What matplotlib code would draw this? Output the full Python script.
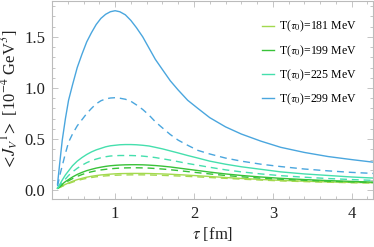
import matplotlib
matplotlib.use("Agg")
import matplotlib.pyplot as plt
from matplotlib.ticker import MultipleLocator

# tau grid [fm] and <J_V^1> values (10^-4 GeV^3)
tau = [0.27, 0.30, 0.33, 0.37, 0.41, 0.46, 0.52, 0.58, 0.64, 0.70, 0.76, 0.82,
       0.88, 0.94, 1.00, 1.06, 1.13, 1.20, 1.27, 1.35, 1.43, 1.51, 1.60, 1.70,
       1.80, 1.92, 2.05, 2.20, 2.40, 2.60, 2.85, 3.10, 3.40, 3.70, 4.00, 4.27]

blue_solid = [0.06, 0.28, 0.49, 0.70, 0.88, 1.03, 1.20, 1.33, 1.45, 1.54, 1.62, 1.68,
              1.72, 1.745, 1.755, 1.745, 1.715, 1.66, 1.59, 1.50, 1.39, 1.28, 1.18, 1.07,
              0.98, 0.88, 0.80, 0.71, 0.62, 0.55, 0.48, 0.42, 0.37, 0.33, 0.30, 0.275]
blue_dash = [0.04, 0.15, 0.24, 0.36, 0.47, 0.55, 0.63, 0.69, 0.75, 0.80, 0.845, 0.875,
             0.893, 0.902, 0.905, 0.90, 0.89, 0.87, 0.835, 0.79, 0.735, 0.67, 0.61, 0.545,
             0.49, 0.44, 0.39, 0.355, 0.315, 0.285, 0.255, 0.232, 0.208, 0.19, 0.175, 0.165]
mint_solid = [0.02, 0.06, 0.10, 0.15, 0.19, 0.24, 0.285, 0.32, 0.35, 0.375, 0.395, 0.41,
              0.425, 0.435, 0.44, 0.445, 0.447, 0.447, 0.445, 0.44, 0.433, 0.42, 0.405, 0.385,
              0.365, 0.34, 0.315, 0.285, 0.255, 0.23, 0.205, 0.18, 0.16, 0.145, 0.13, 0.12]
mint_dash = [0.02, 0.05, 0.08, 0.11, 0.145, 0.18, 0.215, 0.245, 0.27, 0.29, 0.305, 0.318,
             0.328, 0.335, 0.338, 0.34, 0.34, 0.34, 0.338, 0.334, 0.328, 0.32, 0.308, 0.295,
             0.28, 0.262, 0.245, 0.225, 0.20, 0.18, 0.16, 0.143, 0.128, 0.115, 0.105, 0.097]
green_solid = [0.02, 0.04, 0.06, 0.085, 0.105, 0.13, 0.155, 0.175, 0.192, 0.205, 0.217, 0.226,
               0.234, 0.24, 0.244, 0.247, 0.249, 0.25, 0.25, 0.249, 0.246, 0.242, 0.236, 0.228,
               0.218, 0.206, 0.193, 0.178, 0.16, 0.145, 0.13, 0.117, 0.105, 0.095, 0.087, 0.08]
green_dash = [0.02, 0.035, 0.053, 0.075, 0.093, 0.114, 0.136, 0.154, 0.169, 0.181, 0.191, 0.199,
              0.205, 0.21, 0.214, 0.217, 0.219, 0.22, 0.22, 0.219, 0.217, 0.213, 0.208, 0.201,
              0.193, 0.183, 0.172, 0.16, 0.145, 0.132, 0.119, 0.108, 0.098, 0.089, 0.082, 0.076]
ygreen_solid = [0.02, 0.03, 0.042, 0.058, 0.072, 0.088, 0.104, 0.117, 0.128, 0.137, 0.144, 0.15,
                0.154, 0.158, 0.161, 0.163, 0.164, 0.165, 0.165, 0.165, 0.164, 0.162, 0.16, 0.157,
                0.153, 0.148, 0.142, 0.135, 0.125, 0.116, 0.106, 0.097, 0.089, 0.082, 0.077, 0.074]
ygreen_dash = [0.02, 0.028, 0.039, 0.053, 0.066, 0.08, 0.095, 0.107, 0.117, 0.125, 0.132, 0.137,
               0.141, 0.144, 0.147, 0.149, 0.15, 0.151, 0.151, 0.151, 0.15, 0.148, 0.146, 0.143,
               0.14, 0.136, 0.131, 0.125, 0.117, 0.109, 0.10, 0.092, 0.085, 0.079, 0.074, 0.071]

labels = ["T($\\tau_0$)=181 MeV", "T($\\tau_0$)=199 MeV", "T($\\tau_0$)=225 MeV", "T($\\tau_0$)=299 MeV"]
colors = ["#a3d94e", "#38c238", "#45dfad", "#4aa6de"]

plt.rcParams['font.family'] = 'Liberation Serif'
plt.rcParams['mathtext.fontset'] = 'stix'

fig = plt.figure(figsize=(3.74, 2.47), dpi=100)
ax = fig.add_axes([52/374, 1 - 199/247, 321/374, 198/247])

solids = [ygreen_solid, green_solid, mint_solid, blue_solid]
dashes = [ygreen_dash, green_dash, mint_dash, blue_dash]
for ys, yd, c, lab in zip(solids, dashes, colors, labels):
    ax.plot(tau, yd, color=c, lw=1.0, dashes=(5, 3.5))
    ax.plot(tau, ys, color=c, lw=1.0, label=lab)

ax.set_xlim(0.2, 4.27)
ax.set_ylim(-0.085, 1.85)
ax.xaxis.set_major_locator(MultipleLocator(1))
ax.xaxis.set_minor_locator(MultipleLocator(0.2))
ax.yaxis.set_minor_locator(MultipleLocator(0.1))
ax.set_yticks([0, 0.5, 1.0, 1.5])
ax.set_yticklabels(["0.0", "0.5", "1.0", "1.5"])

ax.tick_params(which='both', direction='in', top=True, right=True, color='#bbbbbb',
               labelsize=12, labelcolor='#222222', width=0.6)
ax.tick_params(which='major', length=4.5, pad=5)
ax.tick_params(which='minor', length=2.5)
for s in ax.spines.values():
    s.set_color('#bbbbbb')
    s.set_linewidth(0.8)

ax.set_xlabel(r"$\tau$ [fm]", fontsize=12, color='#222222', labelpad=2)
ax.set_ylabel(r"$<\!J_V{}^1\!>$ [10$^{-4}$ GeV$^3$]", fontsize=12, color='#222222', labelpad=2)

ax.legend(loc='upper left', bbox_to_anchor=(262/374, 1 - 19/247), bbox_transform=fig.transFigure,
          frameon=False, fontsize=8.5, borderpad=0, borderaxespad=0,
          handlelength=1.0, handletextpad=0.4, labelspacing=0.75)

fig.savefig("out.png", dpi=100)
